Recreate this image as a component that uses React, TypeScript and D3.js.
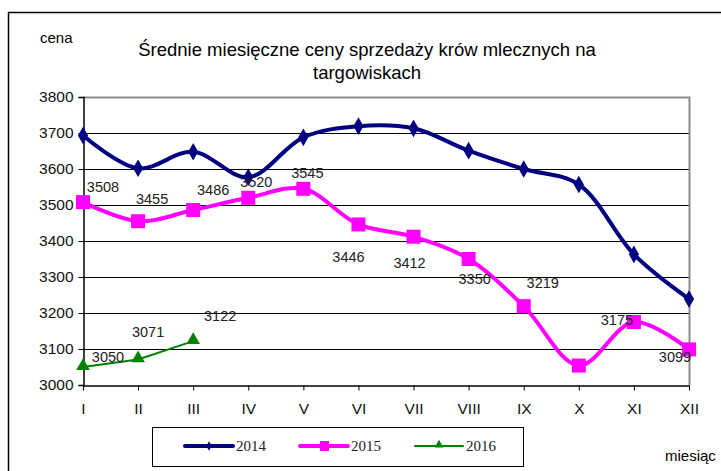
import React, { useEffect, useRef } from 'react';
import * as d3 from 'd3';

const months = ['I', 'II', 'III', 'IV', 'V', 'VI', 'VII', 'VIII', 'IX', 'X', 'XI', 'XII'];
const values2014 = [3693, 3602, 3648, 3577, 3688, 3719, 3713, 3651, 3600, 3557, 3363, 3239];
const values2015 = [3508, 3455, 3486, 3520, 3545, 3446, 3412, 3350, 3219, 3054, 3175, 3099];
const values2016 = [3050, 3071, 3122];
// which 2015 points carry a label (X has none in the original)
const labels2015 = ['3508', '3455', '3486', '3520', '3545', '3446', '3412', '3350', '3219', '', '3175', '3099'];
const labels2016 = ['3050', '3071', '3122'];
const yTicks = [3000, 3100, 3200, 3300, 3400, 3500, 3600, 3700, 3800];

// label offsets relative to marker (px)
const offs2015: [number, number][] = [
  [20, -15], [14, -22], [20, -20], [8, -16], [4, -16], [-10, 33],
  [-4, 26], [6, 20], [19, -23], [0, 0], [-17, -2], [-14, 8],
];
const offs2016: [number, number][] = [[25, -10], [10, -27], [27, -25]];

const W = 721;
const H = 471;
const SANS = 'Liberation Sans, Arial, sans-serif';

export default function App() {
  const ref = useRef<SVGSVGElement>(null);

  useEffect(() => {
    if (!ref.current) return;
    const svg = d3.select(ref.current);
    svg.selectAll('*').remove();

    const left = 83, right = 689, top = 97, bottom = 385;
    const x = d3.scalePoint<string>().domain(months).range([left, right]);
    const y = d3.scaleLinear().domain([3000, 3800]).range([bottom, top]);

    svg.append('rect').attr('width', W).attr('height', H).attr('fill', '#fff');
    // outer frame
    svg.append('path')
      .attr('d', `M8.5,${H}V12.5H${W}`)
      .attr('fill', 'none').attr('stroke', '#000').attr('stroke-width', 1.5);

    // title
    const title = svg.append('text').attr('text-anchor', 'middle')
      .attr('font-family', SANS).attr('font-size', 18.5).attr('fill', '#000');
    title.append('tspan').attr('x', 367).attr('y', 56).text('Średnie miesięczne ceny sprzedaży krów mlecznych na');
    title.append('tspan').attr('x', 367).attr('y', 79).text('targowiskach');

    svg.append('text').attr('x', 40).attr('y', 43)
      .attr('font-family', SANS).attr('font-size', 15).text('cena');
    svg.append('text').attr('x', 665).attr('y', 461)
      .attr('font-family', SANS).attr('font-size', 15).text('miesiąc');

    // gridlines
    svg.append('g').selectAll('line').data(yTicks.slice(1, -1)).enter().append('line')
      .attr('x1', left).attr('x2', right)
      .attr('y1', d => Math.round(y(d)) + 0.5).attr('y2', d => Math.round(y(d)) + 0.5)
      .attr('stroke', '#000').attr('stroke-width', 1);
    // plot border top/right gray
    svg.append('path')
      .attr('d', `M${left},${top + 0.5}H${right + 0.5}V${bottom}`)
      .attr('fill', 'none').attr('stroke', '#8c8c8c').attr('stroke-width', 2);

    // axes
    const yAxis = svg.append('g').attr('transform', `translate(${left + 0.5},0)`)
      .call(d3.axisLeft(y).tickValues(yTicks).tickSize(5).tickPadding(5).tickFormat(d3.format('d')));
    yAxis.select('.domain').attr('stroke', '#000').attr('stroke-width', 1.5);
    yAxis.selectAll('text').attr('font-size', 15.5).attr('font-family', SANS).attr('fill', '#111');

    const xAxis = svg.append('g').attr('transform', `translate(0,${bottom + 0.5})`)
      .call(d3.axisBottom(x).tickSize(5).tickSizeOuter(0).tickPadding(12));
    xAxis.select('.domain').attr('stroke', '#000').attr('stroke-width', 1.5);
    xAxis.selectAll('text').attr('font-size', 15.5).attr('font-family', SANS).attr('fill', '#111');

    const curve = d3.curveCatmullRom.alpha(0.5);
    const line = d3.line<number>().x((_, i) => x(months[i]) as number).y(d => y(d)).curve(curve);

    // 2014
    svg.append('path').datum(values2014).attr('d', line).attr('fill', 'none')
      .attr('stroke', '#000080').attr('stroke-width', 4);
    svg.append('g').selectAll('path').data(values2014).enter().append('path')
      .attr('d', d3.symbol().type(d3.symbolDiamond).size(90)())
      .attr('transform', (d, i) => `translate(${x(months[i])},${y(d)})`)
      .attr('fill', '#000080');

    // 2015
    svg.append('path').datum(values2015).attr('d', line).attr('fill', 'none')
      .attr('stroke', '#ff00ff').attr('stroke-width', 4);
    svg.append('g').selectAll('rect').data(values2015).enter().append('rect')
      .attr('x', (d, i) => (x(months[i]) as number) - 7).attr('y', d => y(d) - 7)
      .attr('width', 14).attr('height', 14).attr('fill', '#ff00ff');

    // 2016
    svg.append('path').datum(values2016).attr('d', line.curve(d3.curveLinear)).attr('fill', 'none')
      .attr('stroke', '#008000').attr('stroke-width', 2);
    svg.append('g').selectAll('path').data(values2016).enter().append('path')
      .attr('d', d3.symbol().type(d3.symbolTriangle).size(80)())
      .attr('transform', (d, i) => `translate(${x(months[i])},${y(d) - 1})`)
      .attr('fill', '#008000');

    const lbl = svg.append('g').attr('font-family', SANS)
      .attr('font-size', 14.5).attr('fill', '#222').attr('text-anchor', 'middle').attr('dominant-baseline', 'central');
    values2015.forEach((v, i) => {
      if (!labels2015[i]) return;
      lbl.append('text').attr('x', (x(months[i]) as number) + offs2015[i][0]).attr('y', y(v) + offs2015[i][1]).text(labels2015[i]);
    });
    values2016.forEach((v, i) => {
      lbl.append('text').attr('x', (x(months[i]) as number) + offs2016[i][0]).attr('y', y(v) + offs2016[i][1]).text(labels2016[i]);
    });

    // legend
    const lg = svg.append('g');
    lg.append('rect').attr('x', 152.5).attr('y', 427.5).attr('width', 371).attr('height', 39)
      .attr('fill', '#fff').attr('stroke', '#000').attr('stroke-width', 1);
    const items = [
      { name: '2014', color: '#000080', w: 4, x0: 185 },
      { name: '2015', color: '#ff00ff', w: 4, x0: 300 },
      { name: '2016', color: '#008000', w: 2, x0: 415 },
    ];
    const ly = 446;
    items.forEach((it, k) => {
      lg.append('line').attr('x1', it.x0).attr('x2', it.x0 + 48).attr('y1', ly).attr('y2', ly)
        .attr('stroke', it.color).attr('stroke-width', it.w).attr('stroke-linecap', 'round');
      if (k === 0) {
        lg.append('path').attr('d', d3.symbol().type(d3.symbolDiamond).size(25)())
          .attr('transform', `translate(${it.x0 + 24},${ly})`).attr('fill', it.color);
      } else if (k === 1) {
        lg.append('rect').attr('x', it.x0 + 20).attr('y', ly - 5).attr('width', 9).attr('height', 10).attr('fill', it.color);
      } else {
        lg.append('path').attr('d', d3.symbol().type(d3.symbolTriangle).size(35)())
          .attr('transform', `translate(${it.x0 + 24},${ly - 1})`).attr('fill', it.color);
      }
      lg.append('text').attr('x', it.x0 + 51).attr('y', ly + 5)
        .attr('font-family', 'Liberation Serif, Times New Roman, serif').attr('font-size', 15).attr('fill', '#222')
        .text(it.name);
    });
  }, []);

  return (
    <svg ref={ref} width={W} height={H} style={{ position: 'absolute', left: 0, top: 0 }} />
  );
}
